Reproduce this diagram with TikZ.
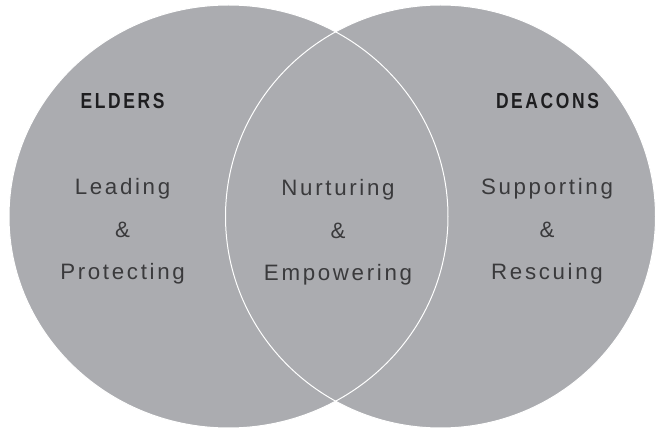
\documentclass[tikz,border=0pt]{standalone}
\usepackage{fontspec}
\setmainfont{Liberation Sans}
\newfontfamily\bodyfont{Liberation Sans}[LetterSpace=12]
\newfontfamily\headfont{Liberation Sans}[FakeStretch=0.8,LetterSpace=12]
\definecolor{venngray}{RGB}{171,172,176}
\definecolor{bodytext}{RGB}{58,58,60}
\definecolor{headtext}{RGB}{30,30,32}
\begin{document}
\begin{tikzpicture}[x=1pt, y=-1pt,
  every node/.style={anchor=base, inner sep=0pt},
  word/.style={font=\bodyfont\fontsize{22.3}{26}\selectfont, text=bodytext},
  title/.style={font=\headfont\bfseries\fontsize{21.8}{26}\selectfont, text=headtext}]
\useasboundingbox (0,0) rectangle (657,430);
\fill[venngray] (228.5,216.5) ellipse [x radius=219.5pt, y radius=211.5pt];
\fill[venngray] (440.5,216.5) ellipse [x radius=215pt, y radius=211.5pt];
\draw[white, line width=1pt] (228.5,216.5) ellipse [x radius=219.5pt, y radius=211.5pt];
\draw[white, line width=1pt] (440.5,216.5) ellipse [x radius=215pt, y radius=211.5pt];
\node[title] (ELD) at (122.5,108.3) {ELDERS};
\node[title] (DEA) at (547.5,108.3) {DEACONS};
\node[word] (L1) at (122.5,195) {Leading};
\node[word] (L2) at (122.5,237.3) {\&};
\node[word] (L3) at (122.5,280) {Protecting};
\node[word] (M1) at (338,196) {Nurturing};
\node[word] (M2) at (338,238.3) {\&};
\node[word] (M3) at (338,281) {Empowering};
\node[word] (R1) at (547,195) {Supporting};
\node[word] (R2) at (547,237.3) {\&};
\node[word] (R3) at (547,280) {Rescuing};
\end{tikzpicture}
\end{document}
